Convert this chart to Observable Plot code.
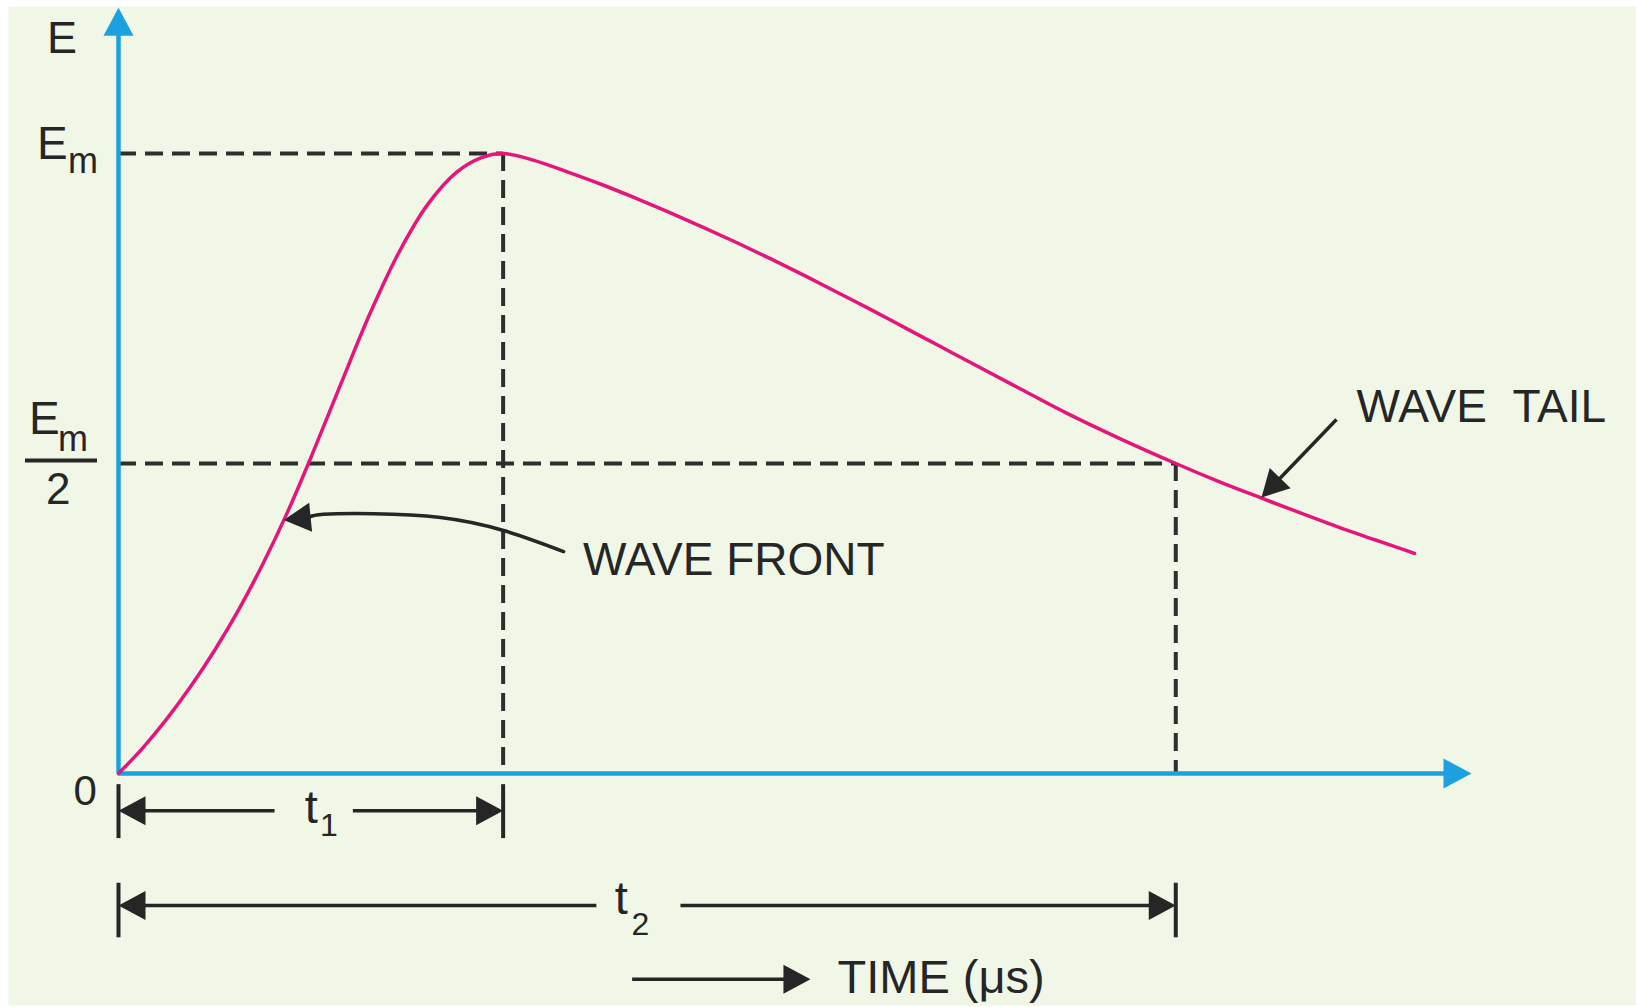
<!DOCTYPE html>
<html>
<head>
<meta charset="utf-8">
<script src="https://cdn.jsdelivr.net/npm/d3@7"></script>
<script src="https://cdn.jsdelivr.net/npm/@observablehq/plot@0.6"></script>
<style>
  html, body { margin: 0; padding: 0; background: #ffffff; }
  #chart svg { display: block; }
</style>
</head>
<body>
<div id="chart"></div>
<script>
// ---------------- DATA (E relative to Em, time in relative units) ----------------
const riseTime = [0, 0.25, 0.5, 0.75, 1.0, 1.25, 1.5, 1.75, 2.0, 2.3, 2.6, 2.9, 3.2, 3.5, 3.75, 3.98];
const riseE    = [0, 0.041, 0.088, 0.141, 0.200, 0.266, 0.340, 0.422, 0.513, 0.628, 0.741, 0.840, 0.918, 0.970, 0.993, 1.0];
const tailTime = [4.3, 4.65, 5.0, 5.35, 5.7, 6.05, 6.4, 6.75, 7.1, 7.45, 7.8, 8.15, 8.5, 8.85, 9.3, 9.8, 10.35, 10.94, 11.4, 11.83, 12.25, 12.63, 13.0, 13.41];
const tailE    = [0.989, 0.970, 0.950, 0.928, 0.905, 0.881, 0.856, 0.830, 0.803, 0.775, 0.747, 0.718, 0.689, 0.660, 0.623, 0.582, 0.541, 0.500, 0.470, 0.444, 0.419, 0.397, 0.377, 0.355];

const t1 = 3.98;          // time to crest (wave front)
const t2 = 10.94;         // time to half value on the tail
const Em = 1;             // crest value
const EmHalf = 0.5;       // half crest value

const axisMaxTime = 14;   // end of time axis arrow
const axisMaxE = 1.235;   // end of E axis arrow

// annotation anchors (in data units)
const frontArrowTime = [4.605, 3.984, 3.332, 2.639, 2.121, 1.966];
const frontArrowE    = [0.358, 0.392, 0.413, 0.419, 0.418, 0.413];
const frontArrowTip  = {x: 1.71, y: 0.409};
const tailArrowStart = {x: 12.603, y: 0.571};
const tailArrowTip   = {x: 11.827, y: 0.445};
const dimRowT1 = -0.060, dimRowT2 = -0.213, timeArrowRow = -0.332;
const t1Gap = [1.62, 2.43], t2Gap = [4.95, 5.82];
const timeArrow = [5.32, 7.16];

// ---------------- SCALES / STYLE ----------------
const X_DOMAIN = [0, axisMaxTime], X_RANGE = [118, 1471];
const Y_DOMAIN = [0, Em], Y_RANGE = [773, 153];
const KX = (X_RANGE[1] - X_RANGE[0]) / (X_DOMAIN[1] - X_DOMAIN[0]);
const KY = (Y_RANGE[0] - Y_RANGE[1]) / (Y_DOMAIN[1] - Y_DOMAIN[0]);

const BG = "#f1f7e6", BLUE = "#1ba0e0", PINK = "#e5157c", INK = "#262626", DASH = "#2e2e2e";
const FONT = "'Liberation Sans', Arial, Helvetica, sans-serif";
const HEAD_LEN = 27, HEAD_HALF = 14.5;

// filled arrowhead symbol, tip at the point, pointing at the given screen angle (deg, 0 = right, 90 = down)
function head(angle, len = HEAD_LEN, half = HEAD_HALF) {
  const a = angle * Math.PI / 180, ux = Math.cos(a), uy = Math.sin(a), px = -uy, py = ux;
  return {draw(ctx) {
    ctx.moveTo(0, 0);
    ctx.lineTo(-ux * len + px * half, -uy * len + py * half);
    ctx.lineTo(-ux * len - px * half, -uy * len - py * half);
    ctx.closePath();
  }};
}
// screen angle from point a to point b (data units)
function angleOf(a, b) {
  return Math.atan2(-(b.y - a.y) * KY, (b.x - a.x) * KX) * 180 / Math.PI;
}
// point moved back from tip by px pixels against the angle
function back(tip, angle, px) {
  const a = angle * Math.PI / 180;
  return {x: tip.x - Math.cos(a) * px / KX, y: tip.y + Math.sin(a) * px / KY};
}
const arrowDot = (p, angle) => Plot.dot([p], {x: "x", y: "y", symbol: head(angle), r: 10, fill: INK, stroke: "none"});
const blueDot = (p, angle) => Plot.dot([p], {x: "x", y: "y", symbol: head(angle, 28, 15), r: 10, fill: BLUE, stroke: "none"});
const txt = (d, o = {}) => Plot.text([d], {x: "x", y: "y", text: "text", textAnchor: "start", lineAnchor: "bottom",
  fill: INK, fontFamily: FONT, fontSize: 46, ...o});

const curve = riseTime.map((t, i) => ({t, e: riseE[i]}))
  .concat(tailTime.map((t, i) => ({t, e: tailE[i]})));
const frontArrow = frontArrowTime.map((t, i) => ({x: t, y: frontArrowE[i]}));

const frontAngle = angleOf(frontArrow[frontArrow.length - 1], frontArrowTip);
const tailAngle = angleOf(tailArrowStart, tailArrowTip);
const tailBase = back(tailArrowTip, tailAngle, HEAD_LEN - 4);
const inset = (HEAD_LEN - 4) / KX;
const insetY = (HEAD_LEN - 4) / KY;

const dashStyle = {stroke: DASH, strokeWidth: 4, strokeDasharray: "18,9"};
const dimStyle = {stroke: INK, strokeWidth: 3.5};

const chart = Plot.plot({
  width: 1636,
  height: 1007,
  marginLeft: 8, marginTop: 6, marginRight: 0, marginBottom: 2,
  x: {domain: X_DOMAIN, range: X_RANGE, axis: null},
  y: {domain: Y_DOMAIN, range: Y_RANGE, axis: null},
  style: {background: "#ffffff", fontFamily: FONT, overflow: "visible"},
  marks: [
    Plot.frame({fill: BG, stroke: "none"}),

    // dashed guides
    Plot.ruleY([{y: Em, x1: 0, x2: t1}], {y: "y", x1: "x1", x2: "x2", ...dashStyle}),
    Plot.ruleY([{y: EmHalf, x1: 0, x2: t2}], {y: "y", x1: "x1", x2: "x2", ...dashStyle}),
    Plot.ruleX([{x: t1, y1: Em, y2: 0}], {x: "x", y1: "y1", y2: "y2", ...dashStyle}),
    Plot.ruleX([{x: t2, y1: EmHalf, y2: 0}], {x: "x", y1: "y1", y2: "y2", ...dashStyle}),

    // axes
    Plot.ruleX([{x: 0, y1: 0, y2: axisMaxE - insetY}], {x: "x", y1: "y1", y2: "y2", stroke: BLUE, strokeWidth: 4.5}),
    Plot.ruleY([{y: 0, x1: 0, x2: axisMaxTime - inset}], {y: "y", x1: "x1", x2: "x2", stroke: BLUE, strokeWidth: 4.5}),
    blueDot({x: 0, y: axisMaxE}, -90),
    blueDot({x: axisMaxTime, y: 0}, 0),

    // impulse wave
    Plot.line(curve, {x: "t", y: "e", stroke: PINK, strokeWidth: 3.5, curve: "catmull-rom"}),

    // wave front annotation
    Plot.line(frontArrow, {x: "x", y: "y", stroke: INK, strokeWidth: 3.5, curve: "natural"}),
    arrowDot(frontArrowTip, frontAngle),
    txt({x: frontArrowTime[0], y: frontArrowE[0], text: "WAVE FRONT"}, {dx: 19.5, dy: 23}),

    // wave tail annotation
    Plot.link([{x1: tailArrowStart.x, y1: tailArrowStart.y, x2: tailBase.x, y2: tailBase.y}],
      {x1: "x1", y1: "y1", x2: "x2", y2: "y2", stroke: INK, strokeWidth: 3.5}),
    arrowDot(tailArrowTip, tailAngle),
    txt({x: tailArrowStart.x, y: tailArrowStart.y, text: "WAVE\u00a0\u00a0TAIL"}, {dx: 20, dy: 3}),

    // t1 dimension
    Plot.ruleX([{x: 0}, {x: t1}], {x: "x", y1: -0.018, y2: -0.105, ...dimStyle, strokeWidth: 4}),
    Plot.ruleY([{y: dimRowT1, x1: inset, x2: t1Gap[0]}, {y: dimRowT1, x1: t1Gap[1], x2: t1 - inset}],
      {y: "y", x1: "x1", x2: "x2", ...dimStyle}),
    arrowDot({x: 0, y: dimRowT1}, 180),
    arrowDot({x: t1, y: dimRowT1}, 0),
    txt({x: (t1Gap[0] + t1Gap[1]) / 2, y: dimRowT1, text: "t"}, {dx: -9.5, dy: 12, fontSize: 47}),
    txt({x: (t1Gap[0] + t1Gap[1]) / 2, y: dimRowT1, text: "1"}, {dx: 5.8, dy: 25, fontSize: 32}),

    // t2 dimension
    Plot.ruleX([{x: 0}, {x: t2}], {x: "x", y1: -0.177, y2: -0.265, ...dimStyle, strokeWidth: 4}),
    Plot.ruleY([{y: dimRowT2, x1: inset, x2: t2Gap[0]}, {y: dimRowT2, x1: t2Gap[1], x2: t2 - inset}],
      {y: "y", x1: "x1", x2: "x2", ...dimStyle}),
    arrowDot({x: 0, y: dimRowT2}, 180),
    arrowDot({x: t2, y: dimRowT2}, 0),
    txt({x: (t2Gap[0] + t2Gap[1]) / 2, y: dimRowT2, text: "t"}, {dx: -24.2, dy: 8, fontSize: 47}),
    txt({x: (t2Gap[0] + t2Gap[1]) / 2, y: dimRowT2, text: "2"}, {dx: -7.4, dy: 29, fontSize: 32}),

    // time arrow + label
    Plot.ruleY([{y: timeArrowRow, x1: timeArrow[0], x2: timeArrow[1] - inset}], {y: "y", x1: "x1", x2: "x2", ...dimStyle}),
    arrowDot({x: timeArrow[1], y: timeArrowRow}, 0),
    txt({x: timeArrow[1], y: timeArrowRow, text: "TIME (μs)"}, {dx: 27, dy: 14, fontSize: 47}),

    // E-axis labels
    txt({x: 0, y: axisMaxE, text: "E"}, {dx: -71.5, dy: 45, fontSize: 45}),
    txt({x: 0, y: Em, text: "E"}, {dx: -81.5, dy: 5}),
    txt({x: 0, y: Em, text: "m"}, {dx: -50.5, dy: 19, fontSize: 36}),
    txt({x: 0, y: EmHalf, text: "E"}, {dx: -89.5, dy: -30}),
    txt({x: 0, y: EmHalf, text: "m"}, {dx: -60.5, dy: -13, fontSize: 36}),
    Plot.ruleY([{y: EmHalf, x1: -93 / KX, x2: -21 / KX}], {y: "y", x1: "x1", x2: "x2", dy: -3, stroke: INK, strokeWidth: 4}),
    txt({x: 0, y: EmHalf, text: "2"}, {dx: -72.5, dy: 40, fontSize: 44}),
    txt({x: 0, y: 0, text: "0"}, {dx: -45, dy: 31, fontSize: 42})
  ]
});
document.getElementById("chart").append(chart);
</script>
</body>
</html>
